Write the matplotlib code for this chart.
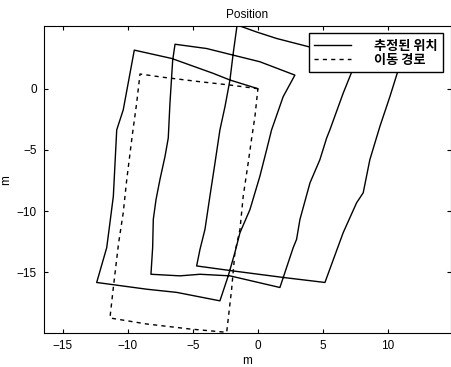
import matplotlib
matplotlib.use('Agg')
import matplotlib.pyplot as plt

# Estimated position (solid) - three drifting loops
est_x = [0.0, -2.15, -3.43, -6.63, -9.50, -10.35, -10.85, -10.98, -11.11, -11.37, -11.62, -12.39,
         -8.55, -6.24, -2.92, -2.28, -1.77, -1.38, -0.61, 0.15, 0.67, 1.05, 1.94, 2.84,
         0.15, -1.90, -3.94, -6.37, -6.55, -6.76, -6.89, -7.14, -7.53, -7.83, -8.04, -8.09, -8.22,
         -5.99, -4.45, -2.15, 1.69, 2.71, 2.97, 3.23, 4.00, 4.76, 5.28, 5.53, 6.55, 7.32, 7.61,
         3.74, 1.44, -0.10, -1.60, -1.90, -2.15, -2.53, -2.92, -3.30, -3.69, -4.07, -4.45, -4.71,
         -1.90, 1.94, 5.15, 6.55, 7.58, 8.09, 8.60, 9.37, 10.14, 10.78, 11.21]
est_y = [0.0, 0.71, 1.25, 2.47, 3.15, -1.73, -3.36, -6.07, -8.78, -10.94, -12.98, -15.82,
         -16.37, -16.63, -17.32, -15.28, -13.38, -11.76, -9.86, -7.15, -4.98, -3.36, -0.65, 1.11,
         2.20, 2.74, 3.28, 3.63, 2.33, -1.19, -4.03, -5.53, -7.42, -9.05, -10.67, -12.98, -15.15,
         -15.28, -15.15, -15.28, -16.23, -12.98, -12.30, -10.67, -7.69, -5.80, -4.03, -3.36, -0.37, 1.66, 2.43,
         3.47, 4.10, 4.63, 5.20, 2.88, 0.71, -1.46, -3.36, -6.07, -8.78, -11.49, -13.11, -14.47,
         -14.88, -15.41, -15.82, -11.76, -9.32, -8.50, -5.80, -3.09, -0.65, 1.52, 3.15]

# Walking route (dashed)
path_x = [0.0, -2.15, -4.45, -7.27, -9.06, -9.32, -9.64, -10.08, -10.35, -10.71, -11.11, -11.37,
          -8.55, -5.22, -2.40, -2.02, -1.77, -1.38, -1.13, -0.75, -0.48, -0.23, 0.0]
path_y = [0.0, 0.30, 0.57, 0.93, 1.20, -1.19, -3.68, -7.42, -10.13, -12.63, -16.23, -18.72,
          -19.21, -19.62, -19.89, -16.37, -13.38, -11.49, -8.78, -6.07, -4.03, -2.28, 0.0]

plt.rcParams['font.family'] = ['Liberation Sans', 'DejaVu Sans']
plt.rcParams['font.size'] = 8

fig = plt.figure(figsize=(4.52, 3.67), dpi=100)
ax = fig.add_axes([0.0973, 0.0925, 0.9, 0.836])

ax.plot(est_x, est_y, color='black', lw=1.0, label='추정된 위치')
ax.plot(path_x, path_y, color='black', lw=1.0, linestyle=(0, (3, 3)), label='이동 경로')

ax.set_xlim(-16.44, 14.82)
ax.set_ylim(-19.95, 5.10)
ax.set_xticks([-15, -10, -5, 0, 5, 10])
ax.set_yticks([-15, -10, -5, 0])
ax.tick_params(direction='in', top=True, right=True, length=3, width=0.8, labelsize=8.5, pad=5)

ax.set_title('Position', fontsize=8.5, pad=6)
ax.set_xlabel('m', fontsize=8.5, labelpad=2)
ax.set_ylabel('m', fontsize=8.5)
ax.yaxis.set_label_coords(-0.078, 0.5)

leg = ax.legend(loc='upper right', bbox_to_anchor=(0.980, 0.977), borderaxespad=0,
                fancybox=False, framealpha=1, edgecolor='black', handlelength=2.8,
                handletextpad=1.7, borderpad=0.4, labelspacing=0.0,
                prop={'family': ['Noto Sans CJK KR'], 'size': 9.5, 'weight': 'bold'})
leg.get_frame().set_linewidth(1.0)

fig.savefig('out.png', dpi=100)
